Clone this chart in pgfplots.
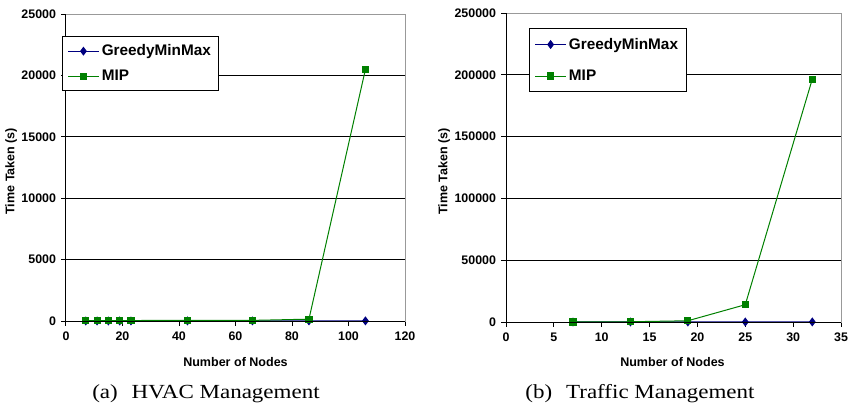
\documentclass[border=0pt]{standalone}
\usepackage{pgfplots}
\pgfplotsset{compat=1.18}
\usepackage{fontspec}
\setmainfont{Liberation Sans}
\newfontfamily\capfont{Liberation Serif}
\definecolor{gmm}{RGB}{0,0,128}
\definecolor{mip}{RGB}{0,128,0}
\pgfplotsset{
  panel/.style={
    scale only axis,
    anchor=south west,
    axis line style={gray!80, line width=0.75pt},
    xtick pos=left, ytick pos=left,
    tick align=outside,
    major tick length=3.5pt,
    tick style={black, line width=0.75pt},
    ymajorgrids,
    major grid style={black, line width=0.75pt},
    scaled y ticks=false,
    /pgf/number format/fixed,
    /pgf/number format/assume math mode=true,
    /pgf/number format/set thousands separator={},
    ticklabel style={font=\bfseries\fontsize{9.3}{10}\selectfont},
    label style={font=\bfseries\fontsize{9.4}{11}\selectfont},
    xticklabel style={yshift=-1pt},
    yticklabel style={xshift=-0.5pt},
    legend cell align=left,
    legend style={draw=black, fill=white, line width=0.75pt,
      font=\bfseries\fontsize{11.5}{13.5}\selectfont,
      inner xsep=4pt, inner ysep=4pt,
      /tikz/every even column/.append style={column sep=0pt}},
    legend image code/.code={\draw[mark repeat=2,mark phase=2] plot coordinates {(0cm,0cm)(0.4cm,0cm)(0.8cm,0cm)};},
    after end axis/.code={\draw[black, line width=0.75pt] (rel axis cs:0,1) -- (rel axis cs:0,0) -- (rel axis cs:1,0);},
    clip=false,
  },
  gmmstyle/.style={color=gmm, line width=0.75pt, mark=diamond*, mark size=2.8pt, mark options={fill=gmm}},
  mipstyle/.style={color=mip, line width=0.75pt, mark=square*, mark size=2.3pt, mark options={fill=mip}},
}
\begin{document}
\begin{tikzpicture}[x=0.75pt,y=0.75pt]
\useasboundingbox (0,0) rectangle (850,408);
\begin{axis}[panel,
  at={(49.5pt,65.25pt)}, width=254.25pt, height=230.25pt,
  xmin=0, xmax=120, ymin=0, ymax=25000,
  xtick={0,20,...,120}, ytick={0,5000,...,25000},
  xlabel={Number of Nodes}, ylabel={Time Taken (s)},
  xlabel style={at={(axis description cs:0.5,-0.134)}, anchor=center},
  ylabel style={at={(axis description cs:-0.162,0.488)}, anchor=center, rotate=0},
  legend style={at={(-0.012,0.928)}, anchor=north west, row sep=5.5pt},
]
\addplot[gmmstyle] coordinates {(7,2) (11,2) (15,3) (19,3) (23,4) (43,5) (66,6) (86,8) (106,10)};
\addlegendentry{GreedyMinMax}
\addplot[mipstyle] coordinates {(7,20) (11,25) (15,30) (19,35) (23,40) (43,45) (66,50) (86,150) (106,20500)};
\addlegendentry{MIP}
\end{axis}
\begin{axis}[panel,
  at={(379.5pt,64.5pt)}, width=251.25pt, height=231.75pt,
  xmin=0, xmax=35, ymin=0, ymax=250000,
  xtick={0,5,...,35}, ytick={0,50000,...,250000},
  xlabel={Number of Nodes}, ylabel={Time Taken (s)},
  xlabel style={at={(axis description cs:0.497,-0.128)}, anchor=center},
  ylabel style={at={(axis description cs:-0.185,0.488)}, anchor=center, rotate=0},
  legend style={at={(0.069,0.951)}, anchor=north west, row sep=10pt, inner ysep=5pt},
]
\addplot[gmmstyle] coordinates {(7,5) (13,10) (19,20) (25,30) (32,40)};
\addlegendentry{GreedyMinMax}
\addplot[mipstyle] coordinates {(7,50) (13,200) (19,1000) (25,14000) (32,196500)};
\addlegendentry{MIP}
\end{axis}
\node[font=\capfont\fontsize{15}{18}\selectfont] at (206,14) {\scalebox{1.15}[1]{(a)\hspace{0.6em}HVAC Management}};
\node[font=\capfont\fontsize{15}{18}\selectfont] at (640,14) {\scalebox{1.15}[1]{(b)\hspace{0.6em}Traffic Management}};
\end{tikzpicture}
\end{document}
